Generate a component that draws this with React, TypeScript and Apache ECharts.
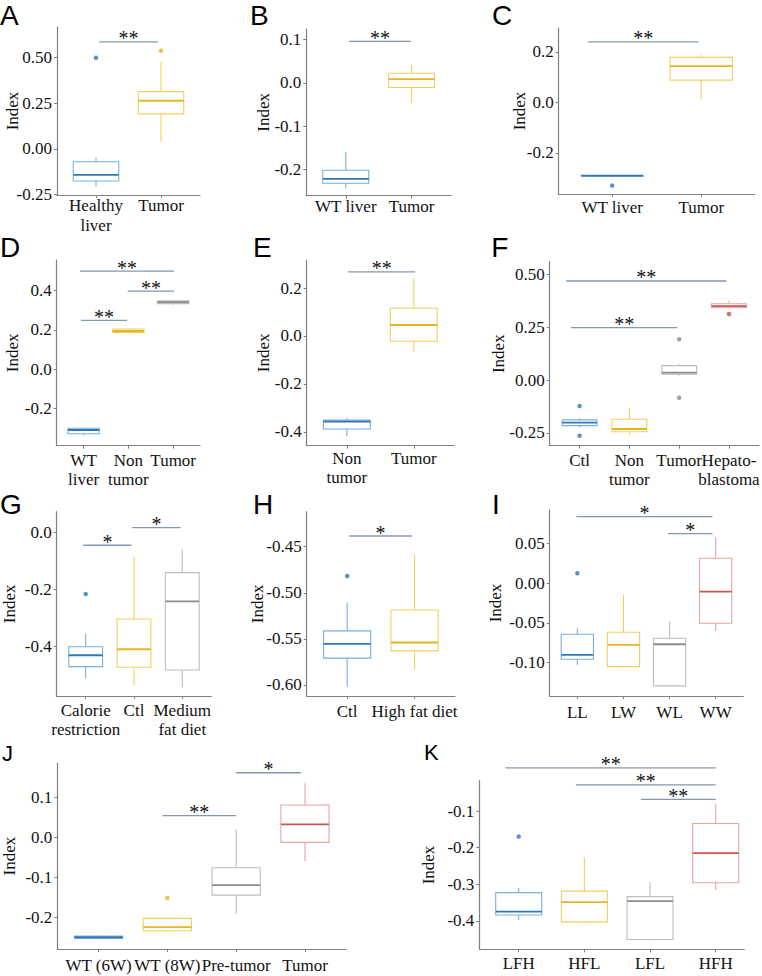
import React, { useEffect, useRef } from "react";
import * as echarts from "echarts";

// ---------- DATA ----------
// box rows: [min, q1, median, q3, max]; outliers: [category position, value]; sig: [x1, x2, y, stars]
const catsA = ["Healthy\nliver", "Tumor"];
const boxA = [[-0.206, -0.175, -0.142, -0.07, -0.045], [0.04, 0.192, 0.264, 0.314, 0.478]];
const outA = [[1, 0.5], [2, 0.538]];
const sigA = [[1.05, 1.95, 0.587, 2]];
const ticksA = [-0.25, 0, 0.25, 0.5];

const catsB = ["WT liver", "Tumor"];
const boxB = [[-0.244, -0.232, -0.222, -0.202, -0.159], [-0.046, -0.011, 0.0085, 0.022, 0.041]];
const outB: number[][] = [];
const sigB = [[1.05, 1.99, 0.0956, 2]];
const ticksB = [-0.2, -0.1, 0, 0.1];

const catsC = ["WT liver", "Tumor"];
const boxC = [[-0.291, -0.291, -0.291, -0.291, -0.291], [0.012, 0.088, 0.143, 0.178, 0.187]];
const outC = [[1, -0.33]];
const sigC = [[0.73, 1.97, 0.239, 2]];
const ticksC = [-0.2, 0, 0.2];

const catsD = ["WT\nliver", "Non\ntumor", "Tumor"];
const boxD = [[-0.338, -0.328, -0.309, -0.3, -0.298], [0.186, 0.187, 0.195, 0.205, 0.212], [0.327, 0.334, 0.342, 0.349, 0.352]];
const outD: number[][] = [];
const sigD = [[0.92, 3.02, 0.5, 2], [1.985, 3.02, 0.398, 2], [0.94, 1.97, 0.249, 2]];
const ticksD = [-0.2, 0, 0.2, 0.4];

const catsE = ["Non\ntumor", "Tumor"];
const boxE = [[-0.418, -0.388, -0.357, -0.351, -0.343], [-0.066, -0.022, 0.046, 0.116, 0.243]];
const outE: number[][] = [];
const sigE = [[1.02, 2.02, 0.268, 2]];
const ticksE = [-0.4, -0.2, 0, 0.2];

const catsF = ["Ctl", "Non\ntumor", "Tumor", "Hepato-\nblastoma"];
const boxF = [[-0.225, -0.216, -0.202, -0.189, -0.18], [-0.26, -0.245, -0.232, -0.186, -0.133], [0.02, 0.028, 0.035, 0.068, 0.076], [0.34, 0.342, 0.35, 0.361, 0.374]];
const outF = [[1, -0.123], [1, -0.264], [3, 0.193], [3, -0.084], [4, 0.313]];
const sigF = [[0.73, 3.95, 0.469, 2], [0.83, 2.96, 0.248, 2]];
const ticksF = [-0.25, 0, 0.25, 0.5];

const catsG = ["Calorie\nrestriction", "Ctl", "Medium\nfat diet"];
const boxG = [[-0.511, -0.47, -0.43, -0.4, -0.355], [-0.534, -0.472, -0.409, -0.303, -0.084], [-0.542, -0.482, -0.241, -0.14, -0.058]];
const outG = [[1, -0.215]];
const sigG = [[0.95, 1.95, -0.044, 1], [1.965, 2.965, 0.0175, 1]];
const ticksG = [-0.4, -0.2, 0];

const catsH = ["Ctl", "High fat diet"];
const boxH = [[-0.602, -0.571, -0.5556, -0.5414, -0.5107], [-0.583, -0.5631, -0.554, -0.5187, -0.458]];
const outH = [[1, -0.4818]];
const sigH = [[1.03, 1.96, -0.4384, 1]];
const ticksH = [-0.6, -0.55, -0.5, -0.45];

const catsI = ["LL", "LW", "WL", "WW"];
const boxI = [[-0.1029, -0.0957, -0.0903, -0.0642, -0.0567], [-0.106, -0.105, -0.0777, -0.0617, -0.0147], [-0.13, -0.1293, -0.0768, -0.0693, -0.0484], [-0.06, -0.0504, -0.0106, 0.0315, 0.058]];
const outI = [[1, 0.0126]];
const sigI = [[0.98, 3.93, 0.0839, 1], [2.97, 3.93, 0.0625, 1]];
const ticksI = [-0.1, -0.05, 0, 0.05];

const catsJ = ["WT (6W)", "WT (8W)", "Pre-tumor", "Tumor"];
const boxJ = [[-0.253, -0.252, -0.249, -0.246, -0.245], [-0.235, -0.233, -0.224, -0.202, -0.202], [-0.19, -0.144, -0.119, -0.0758, 0.02], [-0.059, -0.0125, 0.0324, 0.0806, 0.1347]];
const outJ = [[2, -0.151]];
const sigJ = [[1.93, 3.0, 0.054, 2], [3.0, 3.94, 0.161, 1]];
const ticksJ = [-0.2, -0.1, 0, 0.1];

const catsK = ["LFH", "HFL", "LFL", "HFH"];
const boxK = [[-0.398, -0.384, -0.375, -0.323, -0.31], [-0.405, -0.403, -0.349, -0.319, -0.228], [-0.453, -0.451, -0.346, -0.334, -0.293], [-0.316, -0.296, -0.215, -0.134, -0.081]];
const outK = [[1, -0.17]];
const sigK = [[0.8, 4.0, 0.018, 2], [1.87, 4.0, -0.0285, 2], [2.86, 4.0, -0.068, 2]];
const ticksK = [-0.4, -0.3, -0.2, -0.1];

const panels = [
  { key: "A", cats: catsA, box: boxA, out: outA, sig: sigA, ticks: ticksA, dec: 2 },
  { key: "B", cats: catsB, box: boxB, out: outB, sig: sigB, ticks: ticksB, dec: 1 },
  { key: "C", cats: catsC, box: boxC, out: outC, sig: sigC, ticks: ticksC, dec: 1 },
  { key: "D", cats: catsD, box: boxD, out: outD, sig: sigD, ticks: ticksD, dec: 1 },
  { key: "E", cats: catsE, box: boxE, out: outE, sig: sigE, ticks: ticksE, dec: 1 },
  { key: "F", cats: catsF, box: boxF, out: outF, sig: sigF, ticks: ticksF, dec: 2 },
  { key: "G", cats: catsG, box: boxG, out: outG, sig: sigG, ticks: ticksG, dec: 1 },
  { key: "H", cats: catsH, box: boxH, out: outH, sig: sigH, ticks: ticksH, dec: 2 },
  { key: "I", cats: catsI, box: boxI, out: outI, sig: sigI, ticks: ticksI, dec: 2 },
  { key: "J", cats: catsJ, box: boxJ, out: outJ, sig: sigJ, ticks: ticksJ, dec: 1 },
  { key: "K", cats: catsK, box: boxK, out: outK, sig: sigK, ticks: ticksK, dec: 1 },
];

// ---------- LAYOUT (pixels) ----------
type L = { left: number; top: number; bottom: number; unit: number; xmax: number; ymin: number; ymax: number; nameGap: number; labelMargin: number; lineHeight: number; letter: [number, number, number] };
const layout: Record<string, L> = {
  A: { left: 57, top: 27, bottom: 195, unit: 65, xmax: 2.6, ymin: -0.252, ymax: 0.668, nameGap: 36, labelMargin: 0.5, lineHeight: 20, letter: [0, 1.4, 28] },
  B: { left: 306.3, top: 29, bottom: 195.7, unit: 65.8, xmax: 2.6, ymin: -0.2607, ymax: 0.1242, nameGap: 34.5, labelMargin: 1.3, lineHeight: 19, letter: [250, 1.4, 28] },
  C: { left: 558.7, top: 28, bottom: 194, unit: 89.1, xmax: 2.6, ymin: -0.3632, ymax: 0.2943, nameGap: 30.6, labelMargin: 3.7, lineHeight: 19, letter: [492, 1.4, 28] },
  D: { left: 56.7, top: 260, bottom: 445.7, unit: 44.8, xmax: 3.6, ymin: -0.3888, ymax: 0.5562, nameGap: 35.6, labelMargin: 6, lineHeight: 18.5, letter: [0, 233.4, 28] },
  E: { left: 306.7, top: 260, bottom: 445.7, unit: 66.95, xmax: 2.6, ymin: -0.458, ymax: 0.3173, nameGap: 34.9, labelMargin: 3.6, lineHeight: 19, letter: [253, 233.4, 28] },
  F: { left: 549.7, top: 261.7, bottom: 445.7, unit: 49.8, xmax: 4.6, ymin: -0.3112, ymax: 0.5604, nameGap: 42.9, labelMargin: 5.3, lineHeight: 19, letter: [491.3, 233.4, 28] },
  G: { left: 56.7, top: 511.7, bottom: 696, unit: 48.3, xmax: 3.6, ymin: -0.573, ymax: 0.0737, nameGap: 38.9, labelMargin: 5, lineHeight: 19, letter: [0, 490.4, 28] },
  H: { left: 306.7, top: 511.7, bottom: 696, unit: 67.4, xmax: 2.6, ymin: -0.6121, ymax: -0.412, nameGap: 40.6, labelMargin: 5.7, lineHeight: 19, letter: [253, 490.4, 28] },
  I: { left: 549.7, top: 510, bottom: 696, unit: 46.1, xmax: 4.6, ymin: -0.142, ymax: 0.0923, nameGap: 45.9, labelMargin: 6.7, lineHeight: 19, letter: [492, 490.4, 28] },
  J: { left: 57.3, top: 763.3, bottom: 949, unit: 68.8, xmax: 4.6, ymin: -0.2783, ymax: 0.1845, nameGap: 39.5, labelMargin: 7, lineHeight: 19, letter: [2, 742, 22] },
  K: { left: 479.3, top: 780.7, bottom: 949.3, unit: 65.67, xmax: 4.435, ymin: -0.4779, ymax: -0.0172, nameGap: 42.2, labelMargin: 5, lineHeight: 19, letter: [424, 741.4, 22] },
};

// ---------- STYLE ----------
const SERIF = "'Liberation Serif', 'Times New Roman', Times, serif";
const SANS = "'Liberation Sans', Arial, Helvetica, sans-serif";
const BOX_COLORS = ["#7aaedc", "#f2cf62", "#bdbdbd", "#e8a3a3"];
const MED_COLORS = ["#2f78b8", "#e6b422", "#8c8c8c", "#cf5555"];
const OUT_COLORS = ["#2f78b8", "#e6b422", "#8c8c8c", "#c84a4a"];
const AXIS_COLOR = "#7f7f7f";
const SIG_COLOR = "#8696b0";
const TEXT_COLOR = "#111111";

const renderBox = (_params: any, api: any) => {
  const x = api.value(0);
  const mn = api.value(1), q1 = api.value(2), md = api.value(3), q3 = api.value(4), mx = api.value(5);
  const ci = api.value(6);
  const tl = api.coord([x - 0.35, q3]);
  const br = api.coord([x + 0.35, q1]);
  const top = api.coord([x, mx]);
  const bot = api.coord([x, mn]);
  const mL = api.coord([x - 0.35, md]);
  const mR = api.coord([x + 0.35, md]);
  const cx = top[0];
  const stroke = BOX_COLORS[ci];
  return {
    type: "group",
    children: [
      { type: "line", shape: { x1: cx, y1: top[1], x2: cx, y2: tl[1] }, style: { stroke, lineWidth: 1.1 } },
      { type: "line", shape: { x1: cx, y1: br[1], x2: cx, y2: bot[1] }, style: { stroke, lineWidth: 1.1 } },
      { type: "rect", shape: { x: tl[0], y: tl[1], width: br[0] - tl[0], height: Math.max(br[1] - tl[1], 0) }, style: { stroke, fill: "#ffffff", lineWidth: 1.1 } },
      { type: "line", shape: { x1: mL[0], y1: mL[1], x2: mR[0], y2: mR[1] }, style: { stroke: MED_COLORS[ci], lineWidth: 1.8 } },
    ],
  };
};

const renderSig = (_params: any, api: any) => {
  const p1 = api.coord([api.value(0), api.value(2)]);
  const p2 = api.coord([api.value(1), api.value(2)]);
  const n = api.value(3);
  return {
    type: "group",
    children: [
      { type: "line", shape: { x1: p1[0], y1: p1[1], x2: p2[0], y2: p2[1] }, style: { stroke: SIG_COLOR, lineWidth: 1.3 } },
      {
        type: "text",
        x: (p1[0] + p2[0]) / 2,
        y: p1[1] - 3.5,
        style: { text: "*".repeat(n), align: "center", verticalAlign: "middle", font: "20px " + SERIF, fill: TEXT_COLOR },
      },
    ],
  };
};

function buildOption() {
  const grid: any[] = [];
  const xAxis: any[] = [];
  const yAxis: any[] = [];
  const series: any[] = [];
  const graphic: any[] = [];
  panels.forEach((p, i) => {
    const l = layout[p.key];
    const positions = p.cats.map((_c, j) => j + 1);
    // the axis ends carry empty end labels/ticks, dropped by showMin/MaxLabel:false,
    // so the real category labels are never removed by the min/max overlap check
    const withEnds = [0.4, ...positions, l.xmax];
    grid.push({
      left: l.left,
      top: l.top,
      width: (l.xmax - 0.4) * l.unit,
      height: l.bottom - l.top,
      containLabel: false,
      outerBoundsMode: "none",
    });
    xAxis.push({
      gridIndex: i,
      type: "value",
      min: 0.4,
      max: l.xmax,
      splitLine: { show: false },
      axisLine: { show: true, onZero: false, lineStyle: { color: AXIS_COLOR, width: 1.2 } },
      axisTick: { show: true, length: 3, customValues: withEnds, lineStyle: { color: AXIS_COLOR, width: 1 } },
      axisLabel: {
        customValues: withEnds,
        formatter: (v: number) => (Math.abs(v - Math.round(v)) < 1e-6 ? p.cats[Math.round(v) - 1] ?? "" : ""),
        fontFamily: SERIF,
        fontSize: 17,
        lineHeight: l.lineHeight,
        color: TEXT_COLOR,
        margin: l.labelMargin,
        hideOverlap: false,
        showMinLabel: false,
        showMaxLabel: false,
      },
    });
    yAxis.push({
      gridIndex: i,
      type: "value",
      min: l.ymin,
      max: l.ymax,
      name: "Index",
      nameLocation: "middle",
      nameGap: l.nameGap,
      nameMoveOverlap: false,
      nameTextStyle: { fontFamily: SERIF, fontSize: 17, color: TEXT_COLOR },
      splitLine: { show: false },
      axisLine: { show: true, onZero: false, lineStyle: { color: AXIS_COLOR, width: 1.2 } },
      axisTick: { show: true, length: 3, customValues: p.ticks, lineStyle: { color: AXIS_COLOR, width: 1 } },
      axisLabel: {
        customValues: p.ticks,
        formatter: (v: number) => v.toFixed(p.dec),
        fontFamily: SERIF,
        fontSize: 17,
        color: TEXT_COLOR,
        margin: 5,
        showMinLabel: true,
        showMaxLabel: true,
      },
    });
    series.push({
      type: "custom",
      xAxisIndex: i,
      yAxisIndex: i,
      renderItem: renderBox,
      encode: { x: 0, y: [1, 2, 3, 4, 5] },
      data: p.box.map((b, j) => [j + 1, ...b, j]),
      z: 2,
    });
    if (p.out.length) {
      series.push({
        type: "scatter",
        xAxisIndex: i,
        yAxisIndex: i,
        symbolSize: 4.5,
        data: p.out.map((o) => [o[0], o[1]]),
        itemStyle: { color: (prm: any) => OUT_COLORS[Math.round(prm.data[0]) - 1] },
        z: 3,
      });
    }
    series.push({
      type: "custom",
      xAxisIndex: i,
      yAxisIndex: i,
      renderItem: renderSig,
      encode: { x: [0, 1], y: 2 },
      data: p.sig,
      clip: false,
      z: 4,
    });
    graphic.push({
      type: "text",
      x: l.letter[0],
      y: l.letter[1],
      style: { text: p.key, font: l.letter[2] + "px " + SANS, fill: "#000", verticalAlign: "top", align: "left" },
    });
  });
  return {
    animation: false,
    backgroundColor: "#ffffff",
    textStyle: { fontFamily: SERIF },
    grid,
    xAxis,
    yAxis,
    series,
    graphic,
    tooltip: { show: false },
  };
}

export default function App() {
  const ref = useRef<HTMLDivElement>(null);
  useEffect(() => {
    document.body.style.margin = "0";
    if (!ref.current) return;
    const chart = echarts.init(ref.current, undefined, { renderer: "svg" });
    chart.setOption(buildOption() as any);
    return () => chart.dispose();
  }, []);
  return <div ref={ref} style={{ width: 762, height: 976, position: "absolute", left: 0, top: 0, background: "#fff" }} />;
}
